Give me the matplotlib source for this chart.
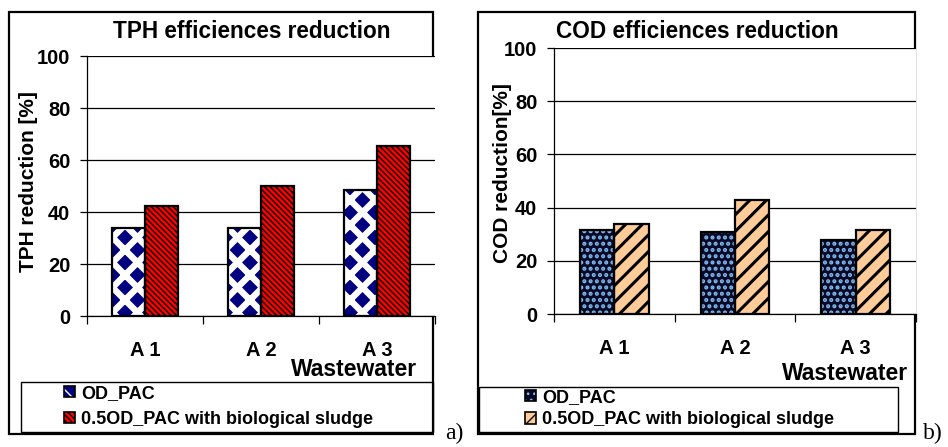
import matplotlib
matplotlib.use('Agg')
import matplotlib.pyplot as plt
from matplotlib.patches import Rectangle
from matplotlib.legend_handler import HandlerTuple
from matplotlib.backend_bases import GraphicsContextBase
import numpy as np

# ---------------- data ----------------
categories = ['A 1', 'A 2', 'A 3']
series_names = ['OD_PAC', '0.5OD_PAC with biological sludge']
tph_od_pac = [33.7, 33.7, 48.3]
tph_sludge = [42.2, 50.0, 65.4]
cod_od_pac = [31.7, 30.9, 27.9]
cod_sludge = [33.8, 42.9, 31.6]
yticks = [0, 20, 40, 60, 80, 100]
titles = ['TPH efficiences reduction', 'COD efficiences reduction']
ylabels = ['TPH reduction [%]', 'COD reduction[%]']
xlabel = 'Wastewater'
panel_tags = ['a)', 'b)']

# finer control of hatch density (style only)
_orig_ghp = GraphicsContextBase.get_hatch_path


def _ghp(self, density=4.0):
    return _orig_ghp(self, density)


GraphicsContextBase.get_hatch_path = _ghp

plt.rcParams['font.family'] = ['Liberation Sans', 'DejaVu Sans']
plt.rcParams['font.weight'] = 'bold'

W, H = 948, 447
DPI = 100
fig = plt.figure(figsize=(W / DPI, H / DPI), dpi=DPI)


def fx(px):
    return px / W


def fy(py):
    return 1 - py / H


def hatched_bars(ax, x, vals, width, face, hcolor, hatch, hlw):
    with plt.rc_context({'hatch.linewidth': hlw}):
        b = ax.bar(x, vals, width, color=face, edgecolor=hcolor, linewidth=0,
                   hatch=hatch, zorder=3)
        for p in b:
            if hasattr(p, 'set_hatch_linewidth'):
                p.set_hatch_linewidth(hlw)
    ax.bar(x, vals, width, fill=False, edgecolor='black', linewidth=1.6, zorder=4)
    with plt.rc_context({'hatch.linewidth': hlw}):
        h1 = Rectangle((0, 0), 1, 1, facecolor=face, edgecolor=hcolor, linewidth=0,
                       hatch=hatch)
        if hasattr(h1, 'set_hatch_linewidth'):
            h1.set_hatch_linewidth(hlw)
    h2 = Rectangle((0, 0), 1, 1, fill=False, edgecolor='black', linewidth=1.2)
    return (h1, h2)


def outer_box(x0, y0, x1, y1, lw=1.6):
    fig.add_artist(Rectangle((fx(x0), fy(y1)), (x1 - x0) / W, (y1 - y0) / H,
                             transform=fig.transFigure, fill=False,
                             edgecolor='black', linewidth=lw, zorder=0))


panels = [
    dict(ax=(87, 56, 435, 316), box=(9, 12, 433, 434), leg_box=(21, 382, 433, 432),
         vals=(tph_od_pac, tph_sludge),
         styles=[('#000080', 'white', 'xx', 4.6), ('#ff0000', 'black', '\\' * 9, 1.0)],
         title_xy=(252, 32), ylabel_xy=(29, 182), ww_xy=(354, 370),
         leg_xy=(64, 385), labelspacing=0.5, tag_xy=(445, 439)),
    dict(ax=(554, 48, 916, 314), box=(478, 12, 915, 434), leg_box=(479, 387, 898, 432),
         vals=(cod_od_pac, cod_sludge),
         styles=[('#0a0a26', '#80bcf4', '....', 2.0), ('#ffcc99', 'black', '///', 2.2)],
         title_xy=(697, 32), ylabel_xy=(502, 173), ww_xy=(845, 373),
         leg_xy=(525, 389), labelspacing=0.3, tag_xy=(923, 439)),
]

x = np.arange(len(categories))
bw = 0.285

for i, P in enumerate(panels):
    x0, y0, x1, y1 = P['ax']
    ax = fig.add_axes([fx(x0), fy(y1), (x1 - x0) / W, (y1 - y0) / H])
    outer_box(*P['box'])
    lb = P['leg_box']
    outer_box(lb[0], lb[1], lb[2], lb[3], lw=1.0)

    handles = []
    for j, (vals, st) in enumerate(zip(P['vals'], P['styles'])):
        off = (j - 0.5) * bw
        handles.append(hatched_bars(ax, x + off, vals, bw, *st))

    ax.set_xlim(-0.5, len(categories) - 0.5)
    ax.set_ylim(0, 100)
    ax.set_yticks(yticks)
    ax.set_yticklabels([str(t) for t in yticks], fontsize=14.5, fontweight='bold')
    ax.tick_params(axis='y', length=5, width=0.9, pad=7, direction='out')
    ax.set_xticks(x)
    ax.set_xticklabels(categories, fontsize=14.5, fontweight='bold')
    ax.set_xticks(np.arange(len(categories) + 1) - 0.5, minor=True)
    ax.tick_params(axis='x', which='major', length=0, pad=18)
    ax.tick_params(axis='x', which='minor', length=6, width=0.9, direction='out')
    ax.yaxis.grid(True, color='black', linewidth=0.9)
    ax.set_axisbelow(True)
    for s in ['top', 'right']:
        ax.spines[s].set_visible(False)
    for s in ['left', 'bottom']:
        ax.spines[s].set_linewidth(0.9)
        ax.spines[s].set_color('black')

    fig.text(fx(P['title_xy'][0]), fy(P['title_xy'][1]), titles[i], fontsize=16.3,
             fontweight='bold', ha='center', va='center')
    fig.text(fx(P['ylabel_xy'][0]), fy(P['ylabel_xy'][1]), ylabels[i], fontsize=15,
             fontweight='bold', ha='center', va='center', rotation=90)
    fig.text(fx(P['ww_xy'][0]), fy(P['ww_xy'][1]), xlabel, fontsize=16.5,
             fontweight='bold', ha='center', va='center')
    fig.text(fx(P['tag_xy'][0]), fy(P['tag_xy'][1]), panel_tags[i], fontsize=17,
             fontweight='normal', family='Liberation Serif', ha='left', va='baseline')

    fig.legend(handles, series_names, loc='upper left',
               bbox_to_anchor=(fx(P['leg_xy'][0]), fy(P['leg_xy'][1])),
               frameon=False, borderpad=0, borderaxespad=0, handlelength=0.6,
               handleheight=0.6, handletextpad=0.35, labelspacing=P['labelspacing'],
               prop=dict(size=13, weight='bold'),
               handler_map={tuple: HandlerTuple(ndivide=1, pad=0)})

fig.savefig('out.png', dpi=DPI)
